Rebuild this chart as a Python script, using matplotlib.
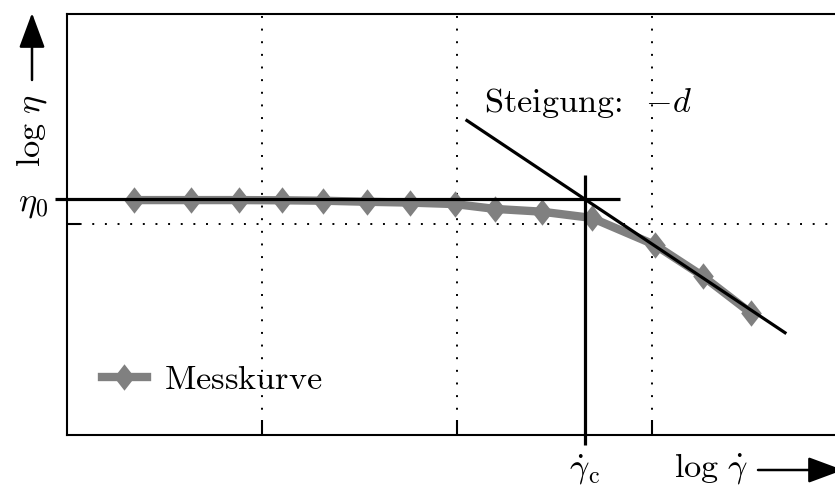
import matplotlib
matplotlib.use("Agg")
import matplotlib.pyplot as plt
import numpy as np

plt.rcParams['mathtext.fontset'] = 'cm'
plt.rcParams['font.family'] = ['DejaVu Sans']

# measured curve (log gamma_dot, log eta) in chart units
log_rate = [0.344, 0.634, 0.882, 1.101, 1.313, 1.537, 1.759, 1.990, 2.195, 2.434, 2.692, 3.015, 3.260, 3.506]
log_visc = [1.116, 1.116, 1.116, 1.115, 1.113, 1.108, 1.104, 1.097, 1.074, 1.061, 1.031, 0.903, 0.755, 0.580]

eta0 = 1.12          # zero-shear plateau level
gamma_c = 2.656      # critical shear rate
slope_d = 0.618      # power-law slope magnitude
slope_x = [2.051, 3.682]
eta0_x = [-0.062, 2.836]
gc_y = [-0.048, 1.235]
grid_x = [1, 2, 3]
grid_y = [1]

FS = 24.7
W, H = 835, 490
fig = plt.figure(figsize=(W / 100, H / 100), dpi=100)
ax = fig.add_axes([67 / W, (H - 435) / H, (W - 67) / W, 421 / H])
ax.set_xlim(0, (W - 67) / 195)
ax.set_ylim(0, 2)

for s in ['left', 'top', 'bottom']:
    ax.spines[s].set_linewidth(1.5)
ax.spines['right'].set_visible(False)

ax.set_xticks(grid_x)
ax.set_yticks(grid_y)
ax.set_xticklabels([])
ax.set_yticklabels([])
ax.tick_params(axis='x', direction='in', length=10.5, width=1.5)
ax.tick_params(axis='y', direction='in', length=9.5, width=1.5)
ax.grid(True, color='black', linestyle=(0, (1, 5.5)), linewidth=1.4)
ax.set_axisbelow(True)

diamond = [(0, 1), (0.78, 0), (0, -1), (-0.78, 0), (0, 1)]
ax.plot(log_rate, log_visc, color='#808080', linewidth=6, marker=diamond,
        markersize=19, markeredgewidth=0, label=r'$\mathrm{Messkurve}$', zorder=3)

# reference lines
ax.plot(eta0_x, [eta0, eta0], color='black', linewidth=2.3, clip_on=False, zorder=4,
        solid_capstyle='butt')
ax.plot([gamma_c, gamma_c], gc_y, color='black', linewidth=2.3, clip_on=False, zorder=4,
        solid_capstyle='butt')
sx = np.array(slope_x)
ax.plot(sx, eta0 - slope_d * (sx - gamma_c), color='black', linewidth=2.3, zorder=4)

ax.text(2.138, 1.575, r'Steigung:  $-d$', family='cmr10', fontsize=FS,
        ha='left', va='center')

leg = ax.legend(loc='center left', bbox_to_anchor=(35 / 768, 0.133), frameon=False,
                fontsize=FS, handlelength=1.3, handletextpad=0.5, borderpad=0,
                borderaxespad=0, numpoints=1)

# axis labels
fig.text(48 / W, (H - 204) / H, r'$\eta_0$', fontsize=FS, ha='right', va='center')
fig.text(585 / W, (H - 470) / H, r'$\dot{\gamma}_\mathrm{c}$', fontsize=FS, ha='center', va='center')
fig.text(674 / W, (H - 468) / H, r'$\log\,\dot{\gamma}$', fontsize=FS, ha='left', va='center')
fig.text(32 / W, (H - 131) / H, r'$\log\,\eta$', fontsize=FS, ha='center', va='center', rotation=90)

ax.annotate('', xy=(32, H - 13), xytext=(32, H - 80), xycoords='figure pixels',
            textcoords='figure pixels',
            arrowprops=dict(arrowstyle='-|>,head_length=1.08,head_width=0.4',
                            mutation_scale=20, lw=1.8, color='black', shrinkA=0, shrinkB=0))
ax.annotate('', xy=(843, H - 470), xytext=(758, H - 470), xycoords='figure pixels',
            textcoords='figure pixels', annotation_clip=False,
            arrowprops=dict(arrowstyle='-|>,head_length=1.08,head_width=0.4',
                            mutation_scale=20, lw=1.8, color='black', shrinkA=0, shrinkB=0))

fig.savefig('out.png', dpi=100)
